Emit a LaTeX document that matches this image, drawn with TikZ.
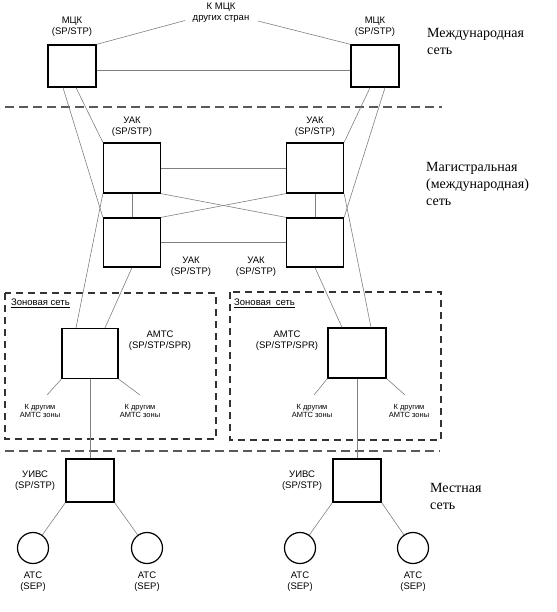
\documentclass[tikz,border=0pt]{standalone}
\usepackage{fontspec}
\setmainfont{Liberation Serif}
\setsansfont{Liberation Sans}
\usetikzlibrary{positioning}
\tikzset{
  box/.style={draw, line width=1.3pt, fill=white, inner sep=0},
  atc/.style={draw, circle, line width=1.2pt, fill=white, inner sep=0, minimum size=31pt},
  lbl/.style={font=\sffamily\fontsize{9.5}{11}\selectfont, align=center, inner sep=0},
  small/.style={font=\sffamily\fontsize{7.5}{8.5}\selectfont, align=center, inner sep=0},
  zonetxt/.style={font=\sffamily\fontsize{9.5}{11}\selectfont, anchor=west, inner sep=0},
  net/.style={font=\fontsize{14}{17}\selectfont, align=left, anchor=north west, inner sep=0},
  link/.style={draw=gray, line width=0.6pt},
  sep/.style={draw=black!65, line width=1.3pt, dash pattern=on 9pt off 5pt},
  zone/.style={draw=black!80, line width=1.1pt, dash pattern=on 7pt off 5pt},
}

\begin{document}
\begin{tikzpicture}[x=1pt, y=-1pt]
  \useasboundingbox (0,0) rectangle (556,612);

  % borders between the levels
  \draw[sep] (5,107) -- (442,107);
  \draw[sep] (5,451) -- (440,451);
  \draw[zone] (5,293) rectangle (216,439);
  \draw[zone] (230,292) rectangle (441,440);
  \node[zonetxt] (zonel) at (11,303) {\underline{Зоновая сеть}};
  \node[zonetxt] (zoner) at (234,303) {\underline{Зоновая\enspace сеть}};

  % international
  \node[box, minimum width=48pt, minimum height=42pt] (mckl) at (72,66) {};
  \node[box, minimum width=48pt, minimum height=42pt] (mckr) at (375,66) {};
  \node[lbl, above=8pt of mckl] (mckltxt) {МЦК\\(SP/STP)};
  \node[lbl, above=8pt of mckr] (mckrtxt) {МЦК\\(SP/STP)};
  \node[lbl] (kmck) at (221,12.5) {К МЦК\\других стран};
  \coordinate (kmckl) at (185,20.5);
  \coordinate (kmckr) at (258,21);
  \draw[link] (mckl.north east) -- (kmckl);
  \draw[link] (kmckr) -- (mckr.north west);
  \draw[link] ([yshift=-4pt]mckl.east) -- ([yshift=-4pt]mckr.west);

  % trunk
  \foreach \s/\x in {l/132, r/315} {
    \node[box, minimum width=57pt, minimum height=50pt] (uaka\s) at (\x,168) {};
    \node[box, minimum width=57pt, minimum height=49pt] (uakb\s) at (\x,242.5) {};
    \draw[link] (uaka\s) -- (uakb\s);
  }
  \node[lbl, above=6pt of uakal] (uakaltxt) {УАК\\(SP/STP)};
  \node[lbl, above=6pt of uakar] (uakartxt) {УАК\\(SP/STP)};
  \node[lbl] (uakbltxt) at (191,267) {УАК\\(SP/STP)};
  \node[lbl] (uakbrtxt) at (256,267) {УАК\\(SP/STP)};
  \draw[link] (uakal) -- (uakar);
  \draw[link] (uakbl) -- (uakbr);
  \draw[link] (uakal.south east) -- (uakbr.north west);
  \draw[link] (uakbl.north east) -- (uakar.south west);

  \draw[link] ([xshift=4pt]mckl.south) -- (uakal.north west);
  \draw[link] ([xshift=-9pt]mckl.south) -- (uakbl.north west);
  \draw[link] ([xshift=-5pt]mckr.south) -- (uakar.north east);
  \draw[link] ([xshift=10pt]mckr.south) -- (uakbr.north east);

  % zones
  \node[box, minimum width=56pt, minimum height=50pt] (amtsl) at (90,353.5) {};
  \node[box, minimum width=58pt, minimum height=50pt] (amtsr) at (357,353) {};
  \node[lbl] (amtsltxt) at (160,341) {АМТС\\(SP/STP/SPR)};
  \node[lbl] (amtsrtxt) at (287,341) {АМТС\\(SP/STP/SPR)};
  \draw[link] ([xshift=-14pt]amtsl.north) -- (uakal.south west);
  \draw[link] ([xshift=15pt]amtsl.north) -- (uakbl.south);
  \draw[link] ([xshift=-15pt]amtsr.north) -- (uakbr.south);
  \draw[link] ([xshift=14pt]amtsr.north) -- (uakar.south east);

  \coordinate (zl1) at (47,395);
  \coordinate (zl2) at (140,395);
  \coordinate (zr1) at (314,395);
  \coordinate (zr2) at (405,395);
  \draw[link] (amtsl.south west) -- (zl1);
  \draw[link] (amtsl.south east) -- (zl2);
  \draw[link] (amtsr.south west) -- (zr1);
  \draw[link] (amtsr.south east) -- (zr2);
  \node[small] (zl1txt) at (40,411) {К другим\\АМТС зоны};
  \node[small] (zl2txt) at (140,411) {К другим\\АМТС зоны};
  \node[small] (zr1txt) at (312,411) {К другим\\АМТС зоны};
  \node[small] (zr2txt) at (409,411) {К другим\\АМТС зоны};

  % local
  \node[box, minimum width=48pt, minimum height=43pt] (uivsl) at (90,480.5) {};
  \node[box, minimum width=48pt, minimum height=43pt] (uivsr) at (357,480.5) {};
  \node[lbl, left=10pt of uivsl] (uivsltxt) {УИВС\\(SP/STP)};
  \node[lbl, left=10pt of uivsr] (uivsrtxt) {УИВС\\(SP/STP)};
  \draw[link] (amtsl) -- (uivsl);
  \draw[link] (amtsr) -- (uivsr);

  \foreach \n/\x in {1/33, 2/147, 3/300, 4/413} {
    \node[atc] (atc\n) at (\x,548) {};
    \node[lbl, below=8pt of atc\n] (atc\n txt) {АТС\\(SEP)};
  }
  \draw[link] (uivsl.south west) -- (atc1);
  \draw[link] (uivsl.south east) -- (atc2);
  \draw[link] (uivsr.south west) -- (atc3);
  \draw[link] (uivsr.south east) -- (atc4);

  % levels
  \node[net] (intnet) at (427,28) {Международная\\сеть};
  \node[net] (trunknet) at (426,162) {Магистральная\\(международная)\\сеть};
  \node[net] (localnet) at (430,483) {Местная\\сеть};
\end{tikzpicture}
\end{document}
